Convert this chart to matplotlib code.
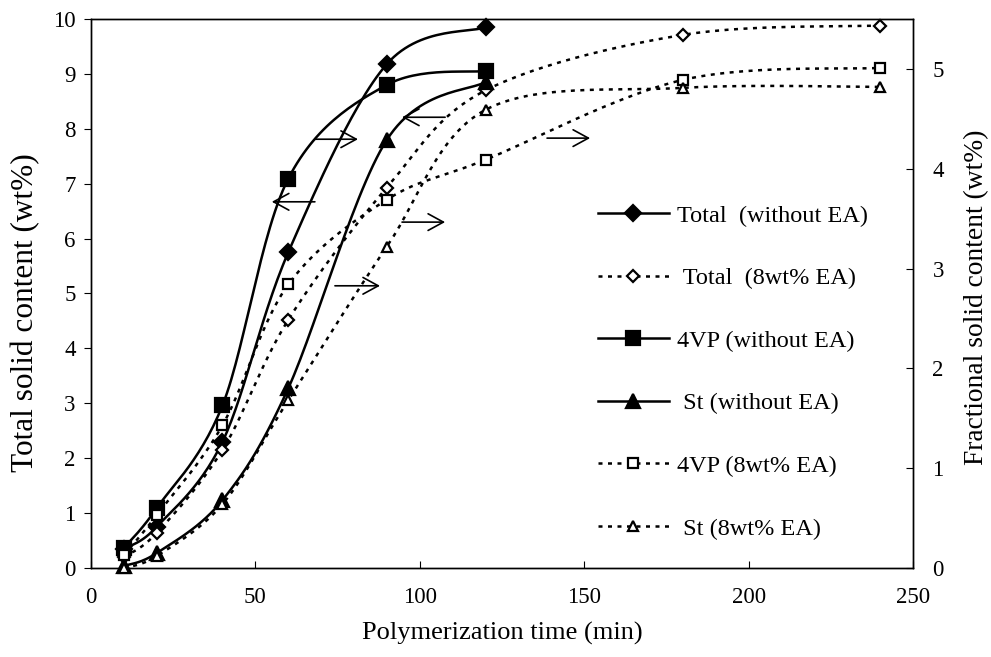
import numpy as np
import matplotlib
matplotlib.use('Agg')
import matplotlib.pyplot as plt

plt.rcParams['font.family'] = ['Liberation Serif', 'DejaVu Serif']

# polymerization time (min)
time_short = [10, 20, 40, 60, 90, 120]
time_long = [10, 20, 40, 60, 90, 120, 180, 240]

# total solid content, left axis (wt%)
total_no_ea = [0.35, 0.75, 2.30, 5.75, 9.18, 9.85]
total_ea = [0.20, 0.64, 2.15, 4.52, 6.93, 8.70, 9.71, 9.88]

# fractional solid content, right axis (wt%)
vp_no_ea = [0.20, 0.60, 1.63, 3.90, 4.84, 4.98]
st_no_ea = [0.02, 0.15, 0.68, 1.80, 4.29, 4.87]
vp_ea = [0.13, 0.53, 1.43, 2.84, 3.69, 4.09, 4.89, 5.01]
st_ea = [0.00, 0.12, 0.64, 1.68, 3.22, 4.59, 4.81, 4.82]

labels = ['Total  (without EA)', ' Total  (8wt% EA)', '4VP (without EA)',
          ' St (without EA)', '4VP (8wt% EA)', ' St (8wt% EA)']

# arrows: (tail x, head x, y on left axis)
arrows = [(68.1, 55.0, 6.67), (68.1, 81.2, 7.81), (107.7, 94.6, 8.21),
          (94.6, 107.7, 6.30), (74.2, 87.9, 5.14), (138.7, 151.8, 7.83)]

X_MAX, Y_LEFT, Y_RIGHT = 250, 10, 5.5


def smooth(x, y, ymax, n=30):
    '''
    Excel-like smoothed line: Catmull-Rom bezier in screen proportions.
    '''
    px = np.asarray(x, float) / X_MAX * 822
    py = np.asarray(y, float) / ymax * 549
    pts = np.column_stack([px, py])
    pts = np.vstack([pts[0], pts, pts[-1]])
    out = []
    t = np.linspace(0, 1, n)[:, None]
    for i in range(1, len(pts) - 2):
        p0, p1, p2, p3 = pts[i - 1], pts[i], pts[i + 1], pts[i + 2]
        c1 = p1 + (p2 - p0) / 6
        c2 = p2 - (p3 - p1) / 6
        seg = ((1 - t) ** 3 * p1 + 3 * (1 - t) ** 2 * t * c1
               + 3 * (1 - t) * t ** 2 * c2 + t ** 3 * p2)
        out.append(seg)
    out = np.vstack(out)
    return out[:, 0] / 822 * X_MAX, out[:, 1] / 549 * ymax


fig = plt.figure(figsize=(9.91, 6.57), dpi=100)
ax = fig.add_axes([0.0918, 0.1355, 0.8295, 0.8356])
ax2 = ax.twinx()

dots = (0, (1.6, 2.2))
series = [
    (ax, time_short, total_no_ea, Y_LEFT, '-', 'D', 'black', 8.5),
    (ax, time_long, total_ea, Y_LEFT, dots, 'D', 'white', 6.5),
    (ax2, time_short, vp_no_ea, Y_RIGHT, '-', 's', 'black', 9.5),
    (ax2, time_short, st_no_ea, Y_RIGHT, '-', '^', 'black', 9.5),
    (ax2, time_long, vp_ea, Y_RIGHT, dots, 's', 'white', 7),
    (ax2, time_long, st_ea, Y_RIGHT, dots, '^', 'white', 7.5),
]

handles = []
for (a, x, y, ymax, ls, mk, fc, ms), lab in zip(series, labels):
    sx, sy = smooth(x, y, ymax)
    a.plot(sx, sy, color='black', lw=1.8, ls=ls, zorder=2)
    a.plot(x, y, ls='none', marker=mk, ms=ms, mfc=fc, mec='black',
           mew=1.6, zorder=3, clip_on=False)
    h, = a.plot([], [], color='black', lw=1.8, ls=ls, marker=mk, ms=ms,
                mfc=fc, mec='black', mew=1.6)
    handles.append(h)

for tail, head, yv in arrows:
    ax.annotate('', xy=(head, yv), xytext=(tail, yv),
                arrowprops=dict(arrowstyle='->,head_length=0.55,head_width=0.3',
                                lw=1.2, color='black', mutation_scale=20,
                                shrinkA=0, shrinkB=0))

ax.set_xlim(0, X_MAX)
ax.set_ylim(0, Y_LEFT)
ax2.set_ylim(0, Y_RIGHT)
ax.set_xticks(np.arange(0, 251, 50))
ax.set_yticks(np.arange(0, 11, 1))
ax2.set_yticks(np.arange(0, 6, 1))

ax.tick_params(axis='x', direction='in', length=5, labelsize=16.5, pad=14)
ax.tick_params(axis='y', direction='out', length=5, labelsize=16.5, pad=6)
ax2.tick_params(axis='y', direction='in', length=5, labelsize=16.5, pad=14)

for a in (ax, ax2):
    for s in a.spines.values():
        s.set_linewidth(1.0)

ax.set_xlabel('Polymerization time (min)', fontsize=19, va='center')
ax.xaxis.set_label_coords(0.5, -0.12)
ax.set_ylabel('Total solid content (wt%)', fontsize=22.5,
              ha='center', va='center')
ax.yaxis.set_label_coords(-0.080, 0.466)
ax2.set_ylabel('Fractional solid content (wt%)', fontsize=19.8,
               ha='center', va='center')
ax2.yaxis.set_label_coords(1.077, 0.494)

ax2.legend(handles, labels, loc='upper left', bbox_to_anchor=(0.617, 0.662),
           frameon=False, fontsize=17.5, labelspacing=1.67, handlelength=2.9,
           handletextpad=0.33, borderaxespad=0, borderpad=0)

fig.savefig('out.png', dpi=100)
